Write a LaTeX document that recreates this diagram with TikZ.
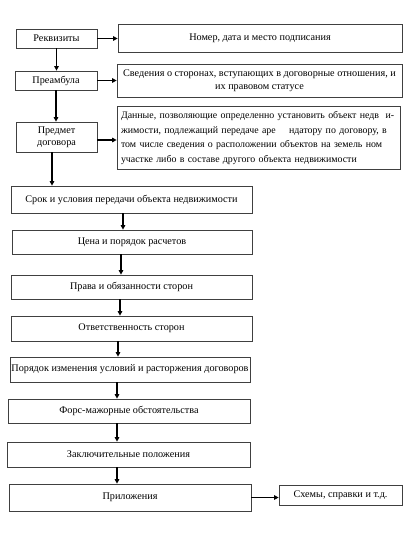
\documentclass[tikz,border=0pt]{standalone}
\usepackage{fontspec}
\setmainfont{Liberation Serif}
\usetikzlibrary{arrows.meta}
\begin{document}
\begin{tikzpicture}[x=1pt,y=-1pt,
  box/.style={draw=black!75,line width=0.7pt,inner sep=1pt,font=\fontsize{10.2}{14.5}\selectfont,align=center},
  arr/.style={line width=1.2pt,-{Triangle[length=4.5pt,width=4.5pt]}}]
\useasboundingbox (0,0) rectangle (410,535);
\node[box,minimum width=81pt,minimum height=19pt] (rek) at (56.5,38.5) {Реквизиты};
\node[box,minimum width=284pt,minimum height=28pt] (nom) at (260,38) {Номер, дата и место подписания};
\node[box,minimum width=82pt,minimum height=19pt] (pre) at (56,80.5) {Преамбула};
\node[box,minimum width=285pt,minimum height=33pt] (sved) at (259.5,80.5) {Сведения о сторонах, вступающих в договорные отношения, и\\[-2pt]их правовом статусе};
\node[box,minimum width=81pt,minimum height=30pt] (pred) at (56.5,137) {Предмет\\[-2pt]договора};
\node[box,minimum width=283pt,minimum height=63pt,align=left,text width=275pt,inner xsep=4pt,anchor=north,font=\fontsize{9.9}{14.5}\selectfont] (dan) at (258.5,106) {\mbox{Данные, позволяющие определенно установить объект недв\ \ и-}\\\mbox{жимости, подлежащий передаче аре\ \ \ \ ндатору по договору, в}\\\mbox{том числе сведения о расположении объектов на земель ном}\\\mbox{участке либо в составе другого объекта недвижимости}};
\node[box,minimum width=241pt,minimum height=27pt] (srok) at (131.5,199.5) {Срок и условия передачи объекта недвижимости};
\node[box,minimum width=240pt,minimum height=24pt] (cena) at (132,242) {Цена и порядок расчетов};
\node[box,minimum width=241pt,minimum height=24pt] (prava) at (131.5,287) {Права и обязанности сторон};
\node[box,minimum width=241pt,minimum height=25pt] (otv) at (131.5,328.5) {Ответственность сторон};
\node[box,minimum width=240pt,minimum height=25pt] (por) at (130,369.5) {Порядок изменения условий и расторжения договоров};
\node[box,minimum width=242pt,minimum height=24pt] (fors) at (129,411) {Форс-мажорные обстоятельства};
\node[box,minimum width=243pt,minimum height=25pt] (zak) at (128.5,454.5) {Заключительные положения};
\node[box,minimum width=242pt,minimum height=27pt] (pril) at (130,497.5) {Приложения};
\node[box,minimum width=123pt,minimum height=20pt] (shem) at (340.5,495) {Схемы, справки и т.д.};
% horizontal arrows
\draw[arr] (rek.east) -- (rek.east -| nom.west);
\draw[arr] (pre.east) -- (pre.east -| sved.west);
\draw[arr] ([yshift=-3pt]pred.east) coordinate (h3) -- (h3 -| dan.west);
\draw[arr] (pril.east) -- (pril.east -| shem.west);
% vertical arrows
\draw[arr] (rek.south) -- (rek.south |- pre.north);
\draw[arr] (pre.south) -- (pre.south |- pred.north);
\path (pred.south) ++(-4.5pt,0) coordinate (v3);
\draw[arr] (v3) -- (v3 |- srok.north);
\path (srok.south) ++(-8.5pt,0) coordinate (v4);
\draw[arr] (v4) -- (v4 |- cena.north);
\path (cena.south) ++(-11pt,0) coordinate (v5);
\draw[arr] (v5) -- (v5 |- prava.north);
\path (prava.south) ++(-11.5pt,0) coordinate (v6);
\draw[arr] (v6) -- (v6 |- otv.north);
\path (otv.south) ++(-13.5pt,0) coordinate (v7);
\draw[arr] (v7) -- (v7 |- por.north);
\path (por.south) ++(-13pt,0) coordinate (v8);
\draw[arr] (v8) -- (v8 |- fors.north);
\path (fors.south) ++(-12pt,0) coordinate (v9);
\draw[arr] (v9) -- (v9 |- zak.north);
\path (zak.south) ++(-11.5pt,0) coordinate (v10);
\draw[arr] (v10) -- (v10 |- pril.north);
\end{tikzpicture}
\end{document}
